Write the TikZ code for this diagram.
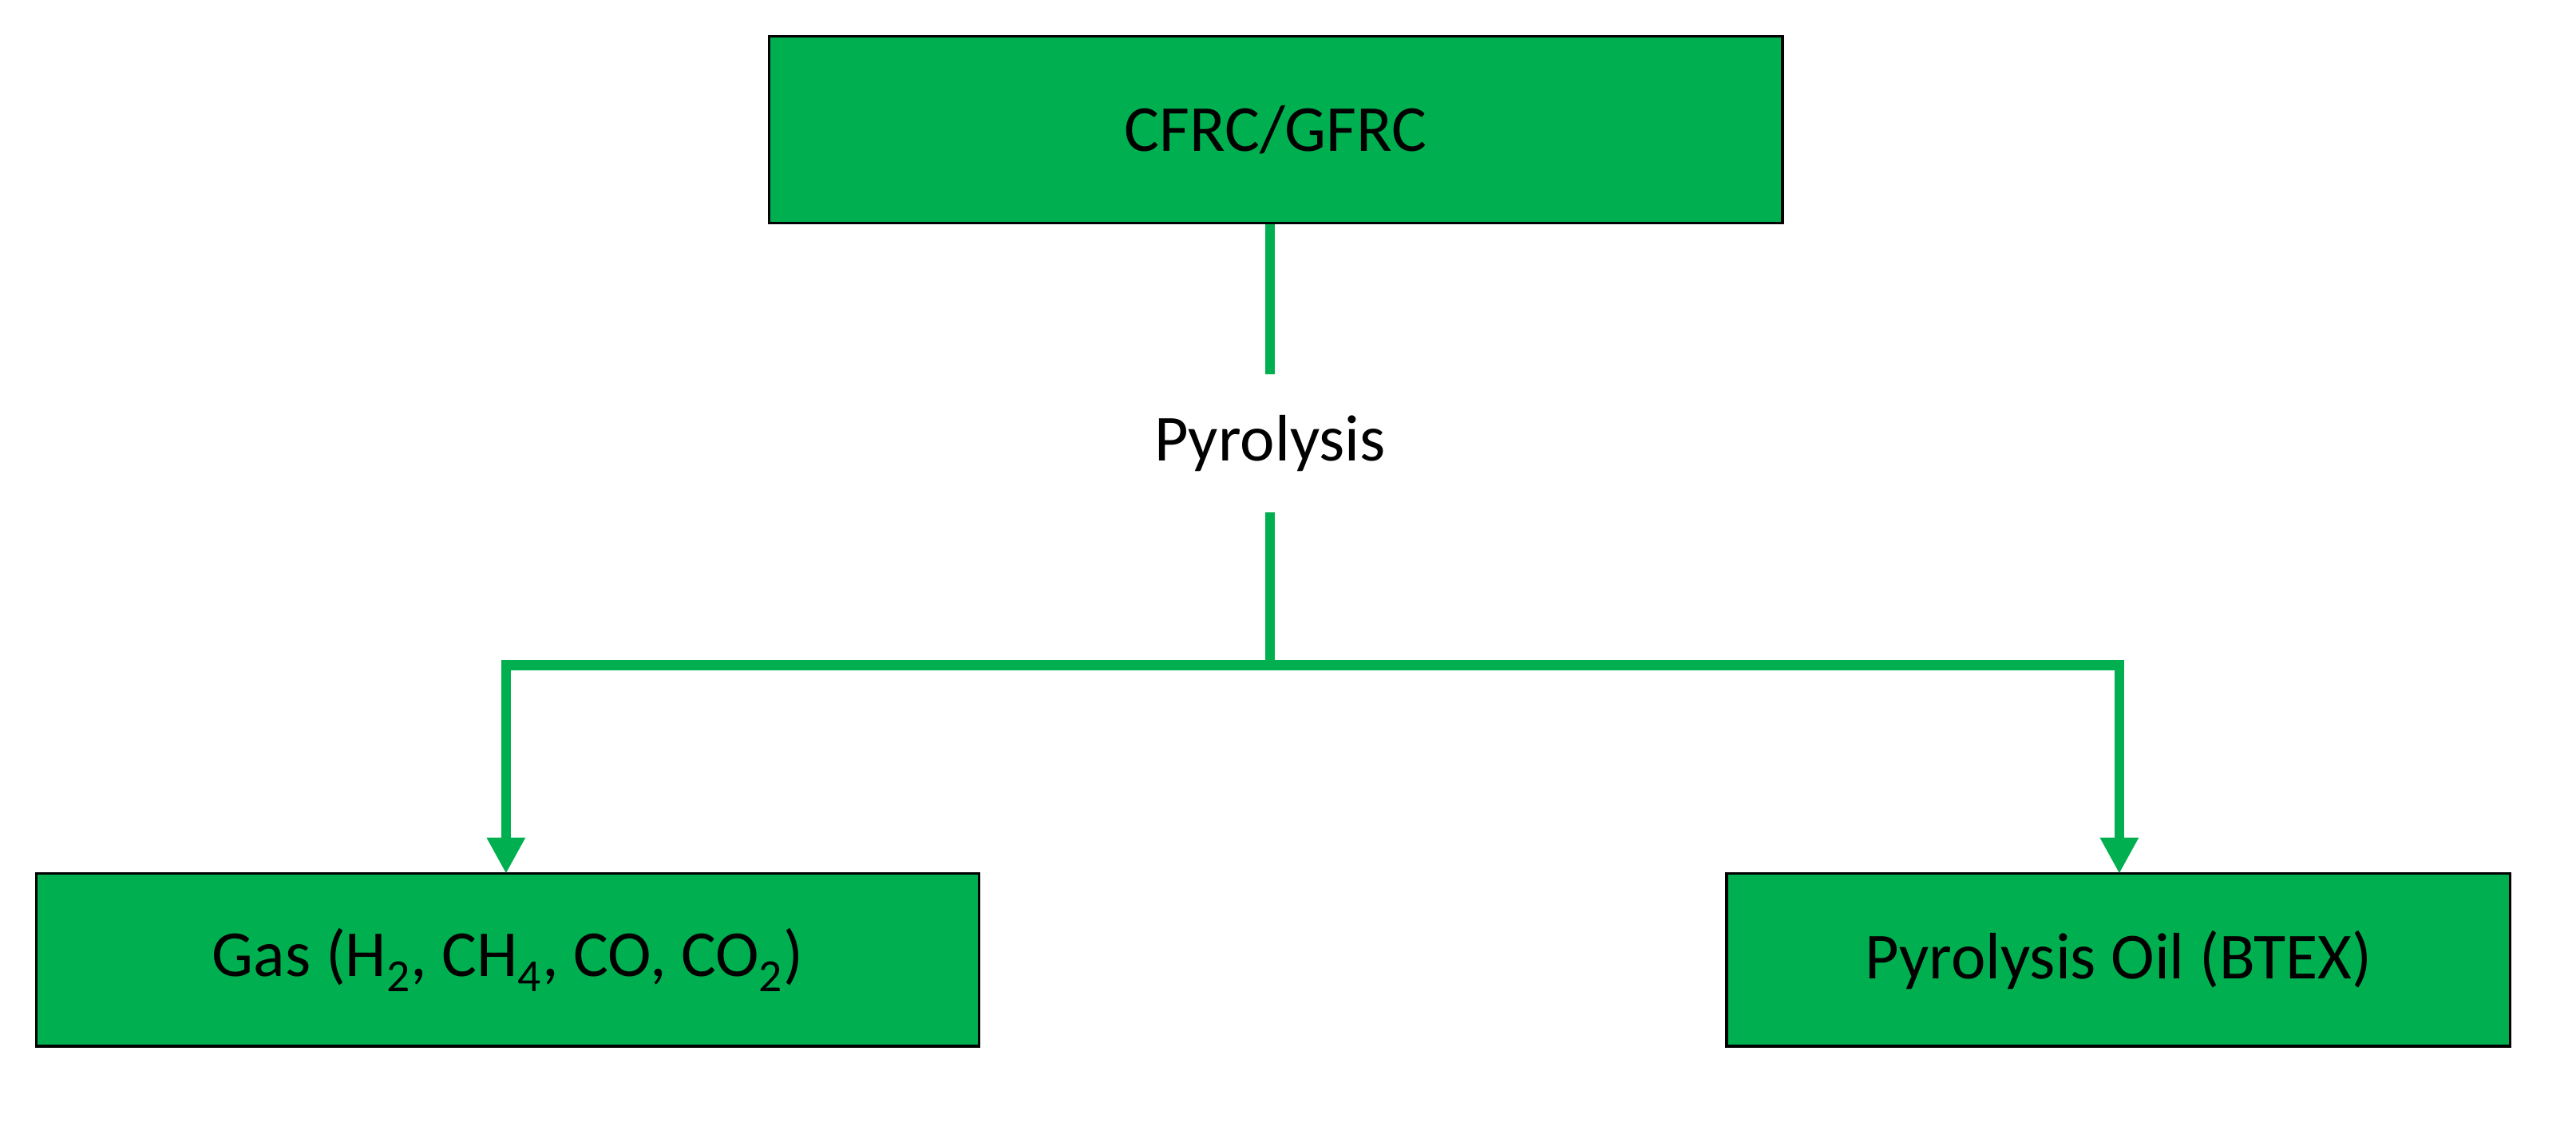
\documentclass[tikz,border=0pt]{standalone}
\usepackage{fontspec}
\setmainfont{Carlito}
\usetikzlibrary{arrows.meta}
\definecolor{bx}{HTML}{00B050}
\begin{document}
\begin{tikzpicture}[x=1pt,y=-1pt,
  box/.style={draw=black,line width=1.5pt,fill=bx,inner sep=0pt,font=\fontsize{40}{48}\selectfont},
  conn/.style={draw=bx,line width=6pt},
  arr/.style={conn,-{Triangle[length=22pt,width=22pt]}}]
\useasboundingbox (0,0) rectangle (1568,690);
\node[box,minimum width=617pt,minimum height=114pt] (top) at (776.5,79) {CFRC/GFRC};
\node[font=\fontsize{40}{48}\selectfont] (pyr) at (773,270) {Pyrolysis};
\node[box,minimum width=574pt,minimum height=105pt] (gas) at (309,584.5) {Gas (H\textsubscript{2}, CH\textsubscript{4}, CO, CO\textsubscript{2})};
\node[box,minimum width=477pt,minimum height=105pt] (oil) at (1289.5,584.5) {Pyrolysis Oil (BTEX)};
\coordinate (j) at (773,405);
\draw[conn] (top.south -| pyr) -- (773,228);
\draw[conn] (773,312) -- (j);
\draw[arr] (j) -- (308,405) -- (308,532);
\draw[arr] (j) -- (1290,405) -- (1290,532);
\end{tikzpicture}
\end{document}
